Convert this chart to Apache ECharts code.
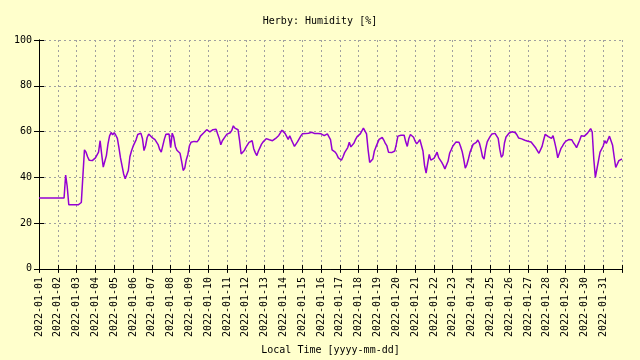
<!DOCTYPE html>
<html>
<head>
<meta charset="utf-8">
<script src="https://cdn.jsdelivr.net/npm/echarts@6/dist/echarts.min.js"></script>
<style>
html,body{margin:0;padding:0;background:#ffffcc;}
#chart{width:640px;height:360px;}
</style>
</head>
<body>
<div id="chart"></div>
<script>
// Chart title and axis names
var chartTitle = 'Herby: Humidity [%]';
var xAxisName = 'Local Time [yyyy-mm-dd]';

// X tick labels (one per day)
var dateLabels = [
  '2022-01-01','2022-01-02','2022-01-03','2022-01-04','2022-01-05','2022-01-06','2022-01-07',
  '2022-01-08','2022-01-09','2022-01-10','2022-01-11','2022-01-12','2022-01-13','2022-01-14',
  '2022-01-15','2022-01-16','2022-01-17','2022-01-18','2022-01-19','2022-01-20','2022-01-21',
  '2022-01-22','2022-01-23','2022-01-24','2022-01-25','2022-01-26','2022-01-27','2022-01-28',
  '2022-01-29','2022-01-30','2022-01-31'
];

// Y tick values
var yTicks = [0, 20, 40, 60, 80, 100];

// Samples every 2 hours (12 per day), starting 2022-01-01 00:00
var samplesPerDay = 12;
var humidity = [
  31,31,31,31,31,31,31,31,31,31,31,31,
  31,31,31,31,31,41,36,28,28,28,28,28,
  28,28,28,29,29,52,51,49,47.5,47.3,47.3,47,
  48.5,48,51,56,50,44.5,44.5,49.5,54.5,58,59.6,58.6,
  59.5,58.4,57,53,48.5,45,41.5,39.4,39.5,43,49,51.5,
  53.5,54,56.5,58.7,59.2,59.3,57,51.7,53.8,57.4,58.9,58.9,
  57.5,56.7,56.5,56,54.3,52.2,51,51.5,56.7,58.8,58.9,58.9,
  53,59.3,57.5,53.5,51.8,52,50.5,47,43,44,47.7,50,
  53.8,55.3,54.5,55.7,55.3,55.6,56.5,58,58,59.4,60,60.8,
  60.5,59.9,60.3,60.8,60,61,58.9,57,54.2,56,56.7,58,
  58.9,59.3,59.5,60.5,62.5,61.5,62.3,60.8,56,50.2,50.2,51.7,
  53.1,53.8,55.3,54.5,56,52.5,50.8,49.5,51.5,53,54.5,55.5,
  56,56.9,57.2,56.4,56.5,56,56.4,57,57.4,58.3,59.4,60.6,
  60.3,59.2,58.5,56.6,58.2,56.5,55,53.5,53.5,55.6,56.3,58,
  59,59.3,59.1,59.6,59.3,59.2,59.7,59.6,59.1,59,59.2,58.6,
  59,58.4,58.2,57.5,59,59.8,56.5,52,51.2,51,50,48.5,
  47.8,47.5,49,50.8,51,53,55.3,53.3,53.2,55,56.6,57.8,
  58.6,59,59.6,61.5,61,59,52,46.5,46.5,48,51.5,53.3,
  54.1,56.6,57.4,57.4,56.3,54.8,53.7,51,51,50.8,51,51.5,
  54.5,58,58.4,58.4,58.4,58.4,55.5,53.5,57,58.7,58.2,57.5,
  55.8,54.6,55.5,56.5,56,51.5,45.2,41.8,46,50,47.5,48,
  48.3,49.5,51,48.6,48,46.5,45.2,43.7,44,47,50.5,52,
  53.6,54.3,55.4,56,55.3,53.5,51.3,48,44,45.5,48,50.9,
  51.7,54.4,55.2,55.3,56.3,55,52.3,49,48,52.5,55.5,56.8,
  58,58.9,59,59.2,59,57,52.3,48.8,49.7,55,57.6,58.5,
  59.4,59.7,59.9,59.9,59.5,58.5,57.2,56.8,56.8,56.7,56.2,55.7,
  55.8,55.6,55.4,54.7,53.7,52.8,52,50.5,50.2,53.5,56.3,58.8,
  58.5,57.8,57.4,57,58.2,55.5,52.4,48.5,49,52.5,53.6,54.8,
  55.7,56.2,56.5,56.6,56.4,55.1,54.2,53,53.3,56.2,58.2,57.4,
  58,57.5,59.3,60.3,61.3,59.8,48,40,40.5,47.3,51,51.8,
  53.7,56,54.8,55.3,58,58,54,49,44.3,45,47.3,48,
  48
];

var seriesData = humidity.map(function (v, i) { return [i / samplesPerDay, v]; });

var FONT = 'DejaVu Sans Mono';
var gridLine = { show: true, lineStyle: { color: '#a0a0a0', width: 1, type: [2, 3] } };
var axisLine = { show: true, lineStyle: { color: '#000', width: 1 } };

var chart = echarts.init(document.getElementById('chart'), null, { renderer: 'canvas' });
chart.setOption({
  backgroundColor: '#ffffcc',
  animation: false,
  title: {
    text: chartTitle,
    left: 'center',
    top: 11,
    textStyle: { fontFamily: FONT, fontSize: 10, fontWeight: 'normal', color: '#000' }
  },
  grid: { left: 39, right: 18, top: 40, bottom: 89, containLabel: false },
  xAxis: [{
    type: 'value',
    min: 0, max: dateLabels.length, interval: 1,
    position: 'bottom',
    name: xAxisName,
    nameLocation: 'middle',
    nameGap: 74,
    nameTextStyle: { fontFamily: FONT, fontSize: 10, color: '#000', verticalAlign: 'top' },
    axisLine: axisLine,
    axisTick: { show: true, inside: true, length: 4, lineStyle: { color: '#000' } },
    splitLine: gridLine,
    axisLabel: {
      rotate: 90, margin: 8,
      fontFamily: FONT, fontSize: 10, color: '#000',
      formatter: function (v) { return dateLabels[Math.round(v)] || ''; }
    }
  }, {
    type: 'value',
    min: 0, max: dateLabels.length, interval: 1,
    position: 'top',
    axisLine: axisLine,
    axisTick: { show: true, inside: true, length: 4, lineStyle: { color: '#000' } },
    splitLine: { show: false },
    axisLabel: { show: false }
  }],
  yAxis: [{
    type: 'value',
    min: yTicks[0], max: yTicks[yTicks.length - 1], interval: yTicks[1] - yTicks[0],
    position: 'left',
    axisLine: axisLine,
    axisTick: { show: true, inside: true, length: 5, lineStyle: { color: '#000' } },
    splitLine: gridLine,
    axisLabel: { margin: 7, fontFamily: FONT, fontSize: 10, color: '#000' }
  }, {
    type: 'value',
    min: yTicks[0], max: yTicks[yTicks.length - 1], interval: yTicks[1] - yTicks[0],
    position: 'right',
    axisLine: axisLine,
    axisTick: { show: true, inside: true, length: 5, lineStyle: { color: '#000' } },
    splitLine: { show: false },
    axisLabel: { show: false }
  }],
  series: [{
    type: 'line',
    xAxisIndex: 0,
    yAxisIndex: 0,
    data: seriesData,
    showSymbol: false,
    symbol: 'none',
    lineStyle: { color: '#9400d3', width: 1.5 },
    silent: true
  }]
});
</script>
</body>
</html>
